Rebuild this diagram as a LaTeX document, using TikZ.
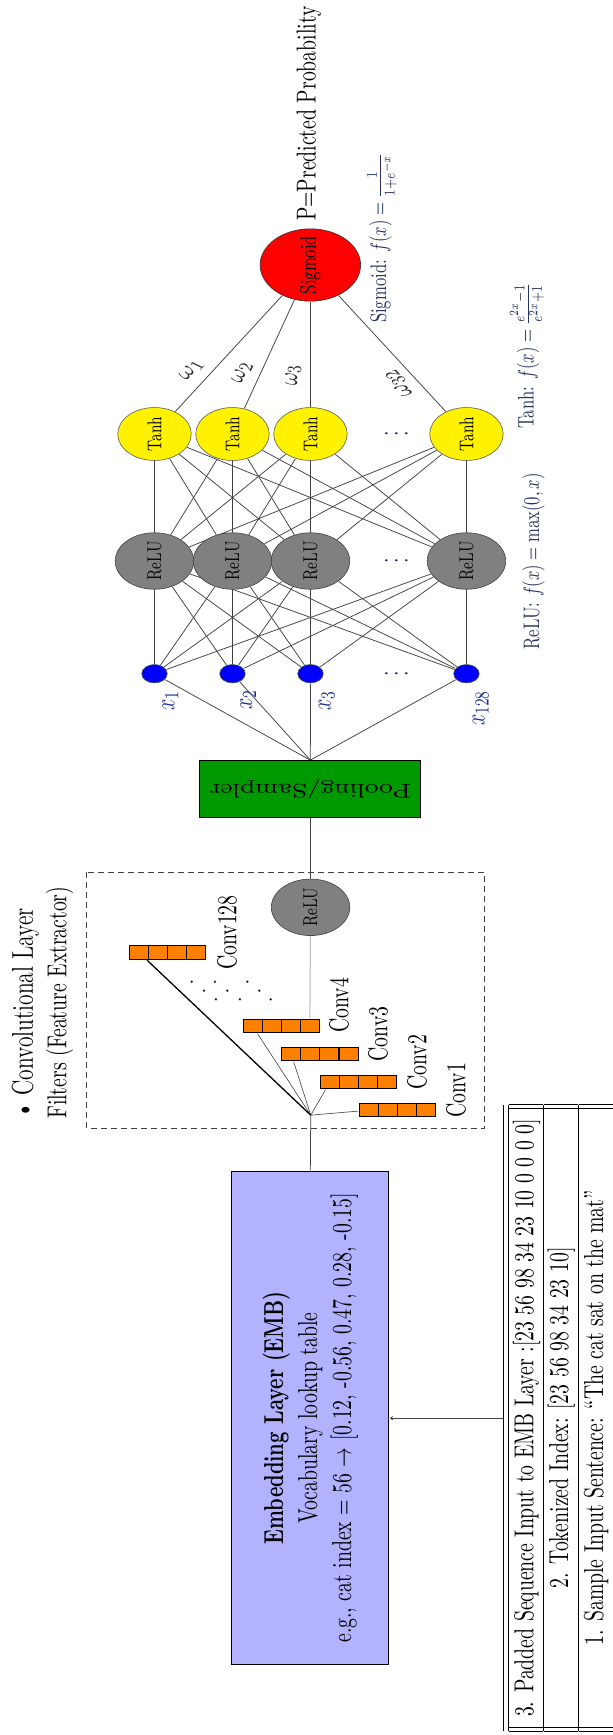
\documentclass[tikz,border=0pt]{standalone}
\usepackage{amsmath}
\usetikzlibrary{arrows.meta}
\pgfdeclarelayer{bg}
\pgfsetlayers{bg,main}
\definecolor{lblblue}{RGB}{25,45,145}
\definecolor{formula}{RGB}{40,50,95}
\tikzset{
  fnormal/.style={font=\fontsize{10.95}{13.6}\selectfont},
  txt/.style={rotate=90, inner sep=1pt, fnormal},
  lnk/.style={draw=black!75, line width=0.75pt},
  neuron/.style={circle, rotate=90, inner sep=0pt, line width=0.6pt},
  tanhn/.style={neuron, draw=black!65, fill=yellow, minimum size=29.4pt, font=\fontsize{8}{9.5}\selectfont},
  relun/.style={neuron, draw=black!75, fill=gray, minimum size=31.4pt, font=\fontsize{8}{9.5}\selectfont},
  inputn/.style={neuron, draw=black!70, fill=blue, minimum size=10.2pt},
  sign/.style={neuron, draw=black!80, fill=red, minimum size=40.2pt, font=\fontsize{9}{11}\selectfont},
  cell/.style={rectangle, draw=black, fill=orange, line width=0.9pt, minimum size=7.6pt, inner sep=0pt},
  formtxt/.style={txt, text=formula, font=\fontsize{9}{11}\selectfont},
  xlbl/.style={txt, text=lblblue},
  wlbl/.style={inner sep=0pt, fnormal, text=black!85},
  rowdots/.style={rotate=90, anchor=base, inner sep=0pt, text=lblblue, fnormal},
  boxnode/.style={draw=black, line width=0.9pt, inner sep=2pt, fnormal}
}
\begin{document}
\begin{tikzpicture}[x=0.4pt, y=-0.5556pt, xscale=2.5, yscale=1.8, transform shape]
\useasboundingbox (0,0) rectangle (613,1735);

% ---------- fully connected part ----------
\foreach \n/\x in {1/154.5, 2/232.5, 3/310.5, 4/466.5} {
  \node[inputn] (x\n) at (\x, 673.7) {};
  \node[relun] (r\n) at (\x, 561) {ReLU};
  \node[tanhn] (t\n) at (\x, 434) {Tanh};
}
\node[sign] (sig) at (310.4, 265) {Sigmoid};

\foreach \y in {434, 561, 673.7}
  \node[rowdots] at (408, \y) {$\vdots$};

\node[txt, anchor=west] (prob) at (309, 223) {P=Predicted Probability};
\node[formtxt] (fsig) at (382, 238) {Sigmoid: $f(x)=\frac{1}{1+e^{-x}}$};
\node[formtxt] (ftanh) at (527, 356) {Tanh: $f(x)=\frac{e^{2x}-1}{e^{2x}+1}$};
\node[formtxt] (frelu) at (533.5, 561.5) {ReLU: $f(x)=\max(0,x)$};

% weight labels, turned along their edges
\node[wlbl, rotate=56.4] (w1) at (191.6, 370) {$\omega_1$};
\node[wlbl, rotate=71.6] (w2) at (242.4, 372.7) {$\omega_2$};
\node[wlbl, rotate=90] (w3) at (293.2, 375) {$\omega_3$};
\node[wlbl, rotate=123.6] (w32) at (398.7, 383.3) {$\omega_{32}$};

\node[xlbl] (lx1) at (170.5, 701) {$x_1$};
\node[xlbl] (lx2) at (248.3, 700) {$x_2$};
\node[xlbl] (lx3) at (326.7, 701) {$x_3$};
\node[xlbl] (lx4) at (480.8, 708.3) {$x_{128}$};

% ---------- pooling ----------
\node[boxnode, rotate=180, fill=green!60!black, minimum width=88.3pt, minimum height=31.3pt] (pool) at (310.3, 789) {Pooling/Sampler};

% ---------- convolutional layer ----------
\draw[black!75, line width=0.9pt, dash pattern=on 6pt off 4pt] (86.8,872.3) rectangle (484.3,1128.3);
\node[txt, anchor=west, font=\fontsize{12}{14.5}\selectfont] (hdr) at (25.5, 1121) {\textbullet\ Convolutional Layer};
\node[txt, anchor=west] (hdr2) at (59.5, 1121) {Filters (Feature Extractor)};

\node[relun] (crelu) at (310.6, 907.3) {ReLU};
\coordinate (fan) at (310.7, 1115);
\foreach \n/\fx/\fy in {1/368.6/1110, 2/329.9/1081.9, 3/291.2/1053.9, 4/252.5/1025.9, 128/139.1/952.5}
  \foreach \k in {0,...,3}
    \node[cell] (c\n-\k) at ({\fx+19.1*\k}, \fy) {};

\node[txt, anchor=west] (l1) at (456, 1120) {Conv1};
\node[txt, anchor=west] (l2) at (417, 1092) {Conv2};
\node[txt, anchor=west] (l3) at (378, 1063.5) {Conv3};
\node[txt, anchor=west] (l4) at (339, 1035) {Conv4};
\node[txt, anchor=west] (l128) at (227, 972) {Conv128};

\foreach \p in {(191.7,981.7),(204,990.7),(216,999.3),(215,981.7),(227.3,990.7),(240,999.3),(247.3,981.7),(259.3,990.7),(270.7,999.3)}
  \fill[black!85] \p circle (1.3);

% ---------- embedding and input table ----------
\node[boxnode, rotate=90, fill=blue!30, minimum width=274.3pt, minimum height=62.9pt, align=center] (emb) at (310.3, 1418)
  {\textbf{Embedding Layer (EMB)}\\ Vocabulary lookup table\\ e.g., cat index = 56 $\rightarrow$ [0.12, -0.56, 0.47, 0.28, -0.15]};

\node[rotate=90, inner sep=0pt, fnormal] (tbl) at (559, 1418) {%
  \begin{tabular}{||c||}
  \hline\hline
  3. Padded Sequence Input to EMB Layer :[23 56 98 34 23 10 0 0 0 0]\\ \hline
  2. Tokenized Index: [23 56 98 34 23 10]\\ \hline
  1. Sample Input Sentence: “The cat sat on the mat”\\ \hline
  \end{tabular}};

% ---------- connectors ----------
\begin{pgfonlayer}{bg}
  \foreach \i in {1,...,4}
    \foreach \j in {1,...,4} {
      \draw[lnk] (x\i) -- (r\j);
      \draw[lnk] (r\i) -- (t\j);
    }
  \foreach \i in {1,...,4} {
    \draw[lnk] (t\i) -- (sig);
    \draw[lnk] (pool.south) -- (x\i);
  }
  \draw[lnk] (pool) -- (crelu);
  \draw[gray!55, line width=1pt] (crelu) -- (c4-3);
  \draw[lnk, line width=0.6pt] (fan) -- (c1-0);
  \draw[lnk, line width=0.6pt] (fan) -- (c2-0);
  \draw[lnk, line width=0.6pt] (fan) -- (c3-0);
  \draw[lnk, line width=0.6pt] (fan) -- (c4-0);
  \draw[black, line width=1.3pt] (fan) -- (c128-0);
  \draw[lnk] (emb.east) -- (fan);
  \draw[lnk, -{To[length=3pt,width=4pt]}] (tbl.north) -- (tbl.north -| emb.south);
\end{pgfonlayer}
\end{tikzpicture}
\end{document}
